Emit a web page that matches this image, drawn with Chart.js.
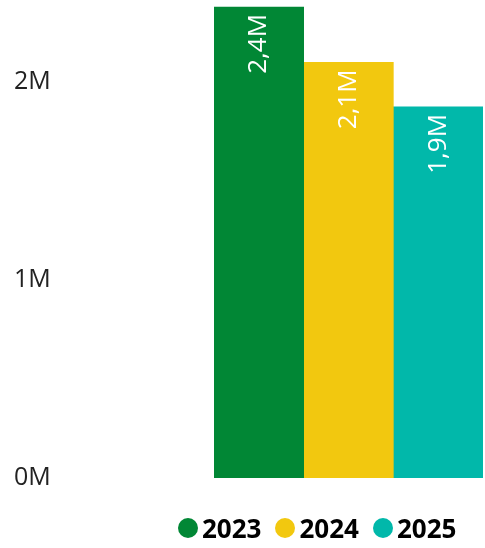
<!DOCTYPE html>
<html>
<head>
<meta charset="utf-8">
<script src="https://cdn.jsdelivr.net/npm/chart.js@4/dist/chart.umd.min.js"></script>
<style>
  html, body { margin: 0; padding: 0; background: #fff; }
  #wrap { position: relative; width: 485px; height: 548px; }
  #legend {
    position: absolute; left: 178px; top: 514px; height: 28px;
    display: flex; align-items: center;
    font-family: "Open Sans", sans-serif; font-weight: bold; font-size: 26px; color: #000;
  }
  #legend .item { display: flex; align-items: center; margin-right: 14px; }
  #legend .dot { width: 20px; height: 20px; border-radius: 50%; margin-right: 4px; }
</style>
</head>
<body>
<div id="wrap">
  <canvas id="salesChart" width="485" height="548"></canvas>
  <div id="legend"></div>
</div>
<script>
// values
const years = ["2023", "2024", "2025"];
const totals = [2380000, 2100000, 1875000];
const yearColors = ["#018735", "#F2C80F", "#01B8AA"];

function fmtM(v) {
  return (v / 1000000).toFixed(1).replace(".", ",") + "M";
}

// white rotated labels at the top of each bar
const barLabels = {
  id: "barLabels",
  afterDatasetsDraw(chart) {
    const ctx = chart.ctx;
    ctx.save();
    ctx.fillStyle = "#fff";
    ctx.font = "26px 'Open Sans', sans-serif";
    ctx.textAlign = "right";
    ctx.textBaseline = "middle";
    chart.data.datasets.forEach((ds, i) => {
      const meta = chart.getDatasetMeta(i);
      meta.data.forEach((bar, j) => {
        ctx.save();
        ctx.translate(bar.x, bar.y + 7);
        ctx.rotate(-Math.PI / 2);
        ctx.fillText(fmtM(ds.data[j]), 0, 0);
        ctx.restore();
      });
    });
    ctx.restore();
  }
};

const ctx = document.getElementById("salesChart").getContext("2d");
new Chart(ctx, {
  type: "bar",
  data: {
    labels: [""],
    datasets: years.map((y, i) => ({
      label: y,
      data: [totals[i]],
      backgroundColor: yearColors[i],
      borderWidth: 0,
      categoryPercentage: 1,
      barPercentage: 1,
    })),
  },
  options: {
    responsive: false,
    animation: false,
    layout: { padding: { left: 14, right: 2, top: 3, bottom: 70 } },
    plugins: { legend: { display: false }, tooltip: { enabled: false } },
    scales: {
      x: { display: false },
      y: {
        min: 0,
        max: 2400000,
        grid: { display: false },
        border: { display: false },
        afterBuildTicks(scale) {
          scale.ticks = [0, 1000000, 2000000].map(v => ({ value: v }));
        },
        afterFit(scale) {
          scale.width = 200;
          scale.paddingTop = 0;
          scale.paddingBottom = 0;
        },
        ticks: {
          crossAlign: "far",
          color: "#222",
          font: { family: "'Open Sans', sans-serif", size: 25 },
          callback: v => Math.round(v / 1000000) + "M",
        },
      },
    },
  },
  plugins: [barLabels],
});

// legend
const legend = document.getElementById("legend");
years.forEach((y, i) => {
  const item = document.createElement("div");
  item.className = "item";
  item.innerHTML = '<span class="dot" style="background:' + yearColors[i] + '"></span>' + y;
  legend.appendChild(item);
});
</script>
</body>
</html>
